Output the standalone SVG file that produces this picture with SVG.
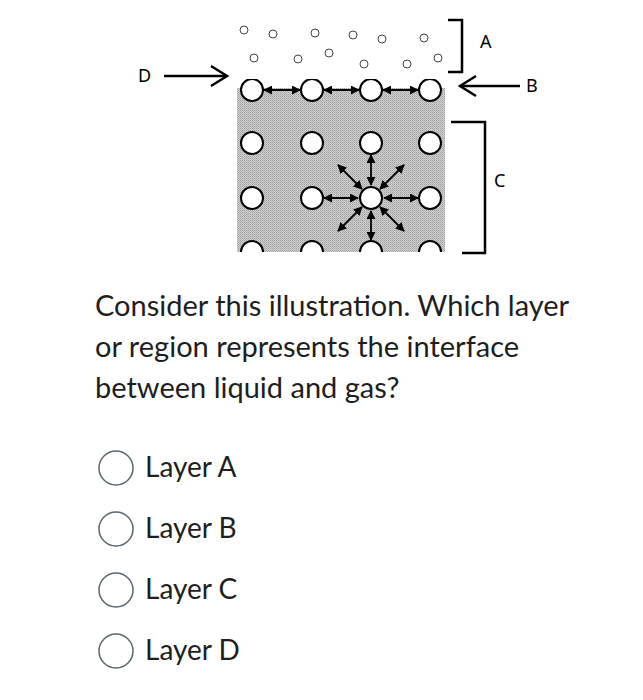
<svg xmlns="http://www.w3.org/2000/svg" width="643" height="700" viewBox="0 0 643 700">
<defs>
<pattern id="dots" width="2" height="2" patternUnits="userSpaceOnUse"><rect width="2" height="2" fill="#d0d0d0"/><rect width="1" height="1" fill="#a0a0a0"/><rect x="1" y="1" width="1" height="1" fill="#b4b4b4"/></pattern>
<marker id="ah" viewBox="0 0 10 10" refX="9" refY="5" markerWidth="5" markerHeight="5" orient="auto-start-reverse"><path d="M0,0 L10,5 L0,10 z" fill="#000"/></marker>
</defs>
<style>
.big{fill:#fff;stroke:#000;stroke-width:2}
.gas{fill:#fff;stroke:#444;stroke-width:1}
.ln{stroke:#000;stroke-width:2.5;fill:none}
.arr{stroke:#000;stroke-width:1.8;fill:none;marker-start:url(#ah);marker-end:url(#ah)}
.lbl{font-family:"Noto Sans","DejaVu Sans",sans-serif;font-size:18px;fill:#000}
.q{font-family:Lato,"Liberation Sans",sans-serif;font-size:29px;fill:#1e1e1e}
.opt{font-family:Lato,"Liberation Sans",sans-serif;font-size:28px;fill:#1e1e1e}
.rad{fill:#fff;stroke:#5a6670;stroke-width:1.5}
</style>
<g id="liquid">
<clipPath id="cl"><rect x="237" y="79" width="208" height="173"/></clipPath>
<rect x="237" y="88" width="208" height="164" fill="url(#dots)"/>
<g clip-path="url(#cl)">
<circle class="big" cx="252" cy="90" r="11"/><circle class="big" cx="312" cy="90" r="11"/><circle class="big" cx="371" cy="90" r="11"/><circle class="big" cx="430" cy="90" r="11"/>
<circle class="big" cx="252" cy="143" r="11"/><circle class="big" cx="312" cy="143" r="11"/><circle class="big" cx="371" cy="143" r="11"/><circle class="big" cx="430" cy="143" r="11"/>
<circle class="big" cx="252" cy="198" r="11"/><circle class="big" cx="312" cy="198" r="11"/><circle class="big" cx="371" cy="198" r="11"/><circle class="big" cx="430" cy="198" r="11"/>
<circle class="big" cx="252" cy="252" r="11"/><circle class="big" cx="312" cy="252" r="11"/><circle class="big" cx="371" cy="252" r="11"/><circle class="big" cx="430" cy="252" r="11"/>
</g>
</g>
<g id="gas">
<circle class="gas" cx="244" cy="30" r="4"/><circle class="gas" cx="273" cy="34" r="4"/><circle class="gas" cx="315" cy="33" r="4"/><circle class="gas" cx="353" cy="35" r="4"/><circle class="gas" cx="382" cy="39" r="4"/><circle class="gas" cx="424" cy="38" r="4"/>
<circle class="gas" cx="254" cy="58" r="4"/><circle class="gas" cx="298" cy="59" r="4"/><circle class="gas" cx="329" cy="53" r="4"/><circle class="gas" cx="364" cy="64" r="4"/><circle class="gas" cx="407" cy="64" r="4"/><circle class="gas" cx="438" cy="58" r="4"/>
</g>
<g id="connectors">
<line class="arr" x1="264" y1="90" x2="300" y2="90"/><line class="arr" x1="324" y1="90" x2="359" y2="90"/><line class="arr" x1="383" y1="90" x2="418" y2="90"/>
<line class="arr" x1="324" y1="198" x2="358" y2="198"/><line class="arr" x1="384" y1="198" x2="418" y2="198"/>
<line class="arr" x1="371" y1="155" x2="371" y2="185"/><line class="arr" x1="371" y1="211" x2="371" y2="240"/>
<line class="arr" x1="362" y1="189" x2="338" y2="165"/><line class="arr" x1="380" y1="189" x2="404" y2="165"/>
<line class="arr" x1="362" y1="207" x2="338" y2="231"/><line class="arr" x1="380" y1="207" x2="404" y2="231"/>
<line class="ln" x1="164" y1="76" x2="226" y2="76"/><path class="ln" d="M211,66 L227,76 L211,86"/>
<line class="ln" x1="520" y1="86" x2="461" y2="86"/><path class="ln" d="M476,76 L460,86 L476,96"/>
<path class="ln" d="M448,20 H462 V72 H448"/>
<path class="ln" d="M451,122 H485 V253 H462"/>
</g>
<g id="labels">
<text class="lbl" x="138" y="82">D</text>
<text class="lbl" x="480" y="48">A</text>
<text class="lbl" x="526" y="92">B</text>
<text class="lbl" x="494" y="187">C</text>
</g>
<g id="question">
<text class="q" x="95" y="316">Consider this illustration. Which layer</text>
<text class="q" x="95" y="357">or region represents the interface</text>
<text class="q" x="95" y="398">between liquid and gas?</text>
</g>
<g id="options">
<circle class="rad" cx="116" cy="468" r="17"/><text class="opt" x="145" y="477">Layer A</text>
<circle class="rad" cx="116" cy="529" r="17"/><text class="opt" x="145" y="538">Layer B</text>
<circle class="rad" cx="116" cy="590" r="17"/><text class="opt" x="145" y="599">Layer C</text>
<circle class="rad" cx="116" cy="651" r="17"/><text class="opt" x="145" y="660">Layer D</text>
</g>
</svg>
